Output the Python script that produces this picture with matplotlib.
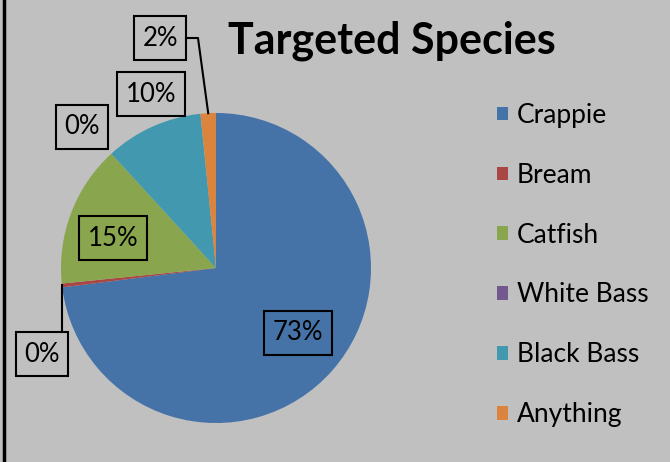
import numpy as np
import matplotlib
matplotlib.use('Agg')
import matplotlib.pyplot as plt
from matplotlib.patches import Rectangle

# 数据
species = ['Crappie', 'Bream', 'Catfish', 'White Bass', 'Black Bass', 'Anything']
share = [73.0, 0.4, 14.8, 0.0, 10.2, 1.6]
colors = ['#4572A7', '#AA4643', '#89A54E', '#71588F', '#4198AF', '#DB843D']

plt.rcParams['font.family'] = ['Lato', 'DejaVu Sans']

W, H = 670, 462
fig = plt.figure(figsize=(W / 100, H / 100), dpi=100)
fig.patch.set_facecolor('#C0C0C0')
ax = fig.add_axes([0, 0, 1, 1])

# 饼图 (像素坐标, y 向上)
cx, cy, r = 216, H - 268, 155
wedges, _ = ax.pie(share, colors=colors, startangle=90, counterclock=False,
                   center=(cx, cy), radius=r, frame=True,
                   wedgeprops=dict(linewidth=0))
ax.set_xlim(0, W)
ax.set_ylim(0, H)
ax.set_aspect('equal')
ax.axis('off')

# 标签 + 方框 (像素)
label_pos = [(298, 333), (42, 354), (113, 238), (82, 127), (151, 94), (160, 38)]
fig.canvas.draw()
renderer = fig.canvas.get_renderer()
for v, (lx, ly) in zip(share, label_pos):
    t = ax.text(lx, H - ly, f'{round(v)}%', fontsize=18.5, ha='center', va='center',
                zorder=5)
    bb = t.get_window_extent(renderer)
    w = bb.width + 17
    ax.add_patch(Rectangle((lx - w / 2, H - ly - 22), w, 44, fill=False,
                           ec='black', lw=1.5, zorder=5))

# 引线
frac = np.cumsum([0] + share) / sum(share)
def edge_point(i):
    ang = np.deg2rad(90 - 360 * (frac[i] + frac[i + 1]) / 2)
    return cx + r * np.cos(ang), cy + r * np.sin(ang)

bx, by = edge_point(1)
ax.plot([bx, bx], [by, H - 332], color='black', lw=1.5, zorder=4)
ox, oy = edge_point(5)
ax.plot([186, 198, ox], [H - 38, H - 38, oy], color='black', lw=1.5, zorder=4)

# 标题
fig.text(392 / W, 1 - 41 / H, 'Targeted Species', fontsize=31, fontweight='bold',
         ha='center', va='center')

# 图例
fig.legend(wedges, species, loc='upper left', bbox_to_anchor=(497 / W, 1 - 103 / H),
           frameon=False, fontsize=19, handlelength=0.42, handleheight=0.42,
           handletextpad=0.34, labelspacing=1.32, borderpad=0, borderaxespad=0)

# 左边框
fig.add_artist(Rectangle((4 / W, -0.1), 1.2, 1.3, transform=fig.transFigure,
                         fill=False, ec='black', lw=2.5))

fig.savefig('out.png', dpi=100, facecolor=fig.get_facecolor())
